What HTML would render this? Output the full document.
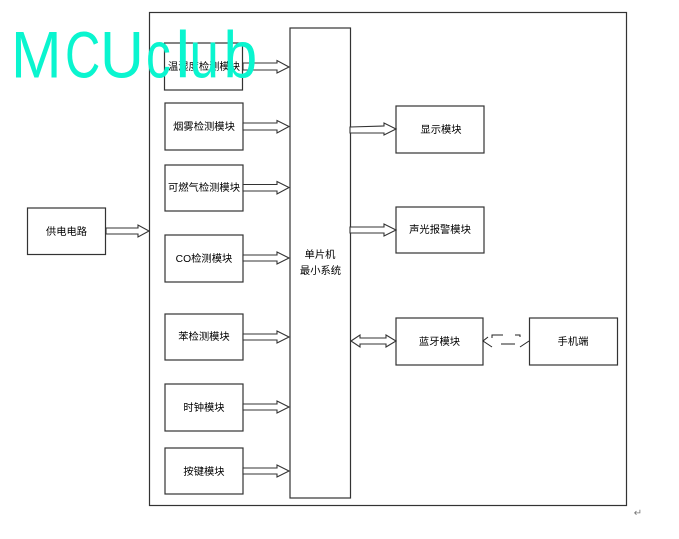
<!DOCTYPE html>
<html>
<head>
<meta charset="utf-8">
<style>
html,body{margin:0;padding:0;background:#fff;width:679px;height:539px;overflow:hidden}
svg{display:block}
text{font-family:"Liberation Sans","Noto Sans CJK SC",sans-serif;font-size:10.3px;fill:#000;text-anchor:middle}
text.w{font-size:66px;text-anchor:start;fill:#0af5cf}
.b{fill:#fff;stroke:#333;stroke-width:1.2}
.a{fill:#fff;stroke:#333;stroke-width:1.1;stroke-linejoin:miter}
</style>
</head>
<body>
<svg width="679" height="539" viewBox="0 0 679 539" xmlns="http://www.w3.org/2000/svg">
<rect class="b" x="149.5" y="12.5" width="477" height="493"/>
<rect class="b" x="27.5" y="208" width="78" height="46.5"/>
<rect class="b" x="164.5" y="43" width="78" height="47"/>
<rect class="b" x="165" y="103" width="78" height="47"/>
<rect class="b" x="165" y="165" width="78" height="46"/>
<rect class="b" x="165" y="235" width="78" height="47"/>
<rect class="b" x="165" y="314" width="78" height="46"/>
<rect class="b" x="165" y="384" width="78" height="47"/>
<rect class="b" x="165" y="448" width="78" height="46"/>
<rect class="b" x="290" y="28" width="60.5" height="470"/>
<rect class="b" x="396" y="106" width="88" height="47"/>
<rect class="b" x="396" y="207" width="88" height="46"/>
<rect class="b" x="396" y="318" width="87" height="47"/>
<rect class="b" x="529.5" y="318" width="88" height="47"/>

<polygon class="a" points="243,63 277,63 277,60.500 289,67 277,73 277,70 243,70"/>
<polygon class="a" points="243,123 277,123 277,120.500 289,126.500 277,133 277,130 243,130"/>
<polygon class="a" points="243,184.500 277,184.500 277,181.500 289,187.500 277,194 277,191 243,191"/>
<polygon class="a" points="243,255 277,255 277,252 289,258 277,264 277,261 243,261"/>
<polygon class="a" points="243,334 277,334 277,331 289,337 277,343 277,340 243,340"/>
<polygon class="a" points="243,404 277,404 277,401 289,407 277,413 277,410 243,410"/>
<polygon class="a" points="243,468 277,468 277,465 289,471 277,477 277,474 243,474"/>
<polygon class="a" points="106,228 138,228 138,225 149,231 138,237 138,234 106,234"/>
<polygon class="a" points="350,127 384,126 384,123 396,129 384,135 384,133 350,133"/>
<polygon class="a" points="350,227 384,227 384,224 396,230 384,236 384,233 350,233"/>
<polygon class="a" points="351,341 360,335 360,338 386,338 386,335 396,341 386,347 386,344 360,344 360,347"/>

<path fill="none" stroke="#222" stroke-width="1" d="M492,347L483,341L488,337M492,338V335H503M515,335H520V337M501,344H515M520,347L529,341"/>

<text x="66.500" y="235">供电电路</text>
<text x="204" y="70">温湿度检测模块</text>
<text x="204" y="130">烟雾检测模块</text>
<text x="204" y="191">可燃气检测模块</text>
<text x="204" y="262">CO检测模块</text>
<text x="204" y="340">苯检测模块</text>
<text x="204" y="411">时钟模块</text>
<text x="204" y="475">按键模块</text>
<text x="320" y="258">单片机</text>
<text x="320.500" y="274">最小系统</text>
<text x="441" y="133">显示模块</text>
<text x="440" y="233">声光报警模块</text>
<text x="439.500" y="345">蓝牙模块</text>
<text x="573" y="345">手机端</text>
<text x="638" y="516" style="font-size:10px;fill:#777">↵</text>

<text class="w" transform="translate(11,77.500) scale(.92,1)">M</text>
<text class="w" transform="translate(65,77.500) scale(.74,1)">C</text>
<text class="w" transform="translate(100,77.500) scale(.92,1)">U</text>
<text class="w" transform="translate(146,77.500) scale(.75,1)">c</text>
<text class="w" transform="translate(175.500,77.500)">l</text>
<text class="w" transform="translate(189.500,77.500) scale(.8,1)">u</text>
<text class="w" transform="translate(223.500,77.500) scale(.92,1)">b</text>
</svg>
</body>
</html>
